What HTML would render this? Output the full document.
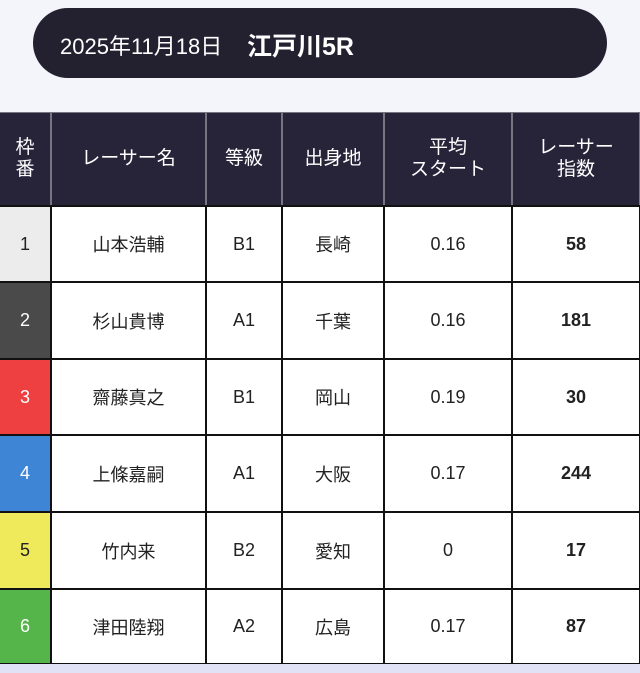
<!DOCTYPE html>
<html><head><meta charset="utf-8"><style>
body{margin:0;width:640px;height:673px;background:#f4f4fb;position:relative;overflow:hidden;font-family:"Liberation Sans","Noto Sans CJK JP",sans-serif;}
.pill{position:absolute;left:33px;top:8px;width:574px;height:70px;background:#23212f;border-radius:35px;color:#fff;}
.pill .d{position:absolute;left:27px;top:21px;font-size:22px;}
.pill .t{position:absolute;left:214px;top:19px;font-size:25px;font-weight:bold;}
.c{position:absolute;display:flex;align-items:center;justify-content:center;text-align:center;box-sizing:border-box;font-size:18px;color:#222;}
.h{background:#27243a;color:#fff;font-size:19px;line-height:22px;}
.bot{position:absolute;left:0;top:664px;width:640px;height:9px;background:#e2e2f6;}
</style></head><body>
<div class="pill"><span class="d">2025年11月18日</span><span class="t">江戸川5R</span></div>
<div id="t"></div>
<div class="bot"></div>
<script>
const xs=[0,51,206,282,384,512,640];
const ys=[112,206,282,359,435,512,589,664];
const hd=["枠<br>番","レーサー名","等級","出身地","平均<br>スタート","レーサー<br>指数"];
const rows=[["1","山本浩輔","B1","長崎","0.16","58"],["2","杉山貴博","A1","千葉","0.16","181"],["3","齋藤真之","B1","岡山","0.19","30"],["4","上條嘉嗣","A1","大阪","0.17","244"],["5","竹内来","B2","愛知","0","17"],["6","津田陸翔","A2","広島","0.17","87"]];
const cols=[["#ececec","#222"],["#4a4a4a","#fff"],["#ee4040","#fff"],["#3f85d6","#fff"],["#efe95c","#222"],["#55b54a","#fff"]];
let h="";
h+=`<div class="c" style="left:0;top:112px;width:640px;height:94px;background:#77757f"></div>`;
for(let i=0;i<6;i++){h+=`<div class="c h" style="left:${xs[i]+(i?1:0)}px;top:113px;width:${xs[i+1]-xs[i]-(i?2:1)}px;height:92px">${hd[i]}</div>`;}
h+=`<div class="c" style="left:0;top:205px;width:640px;height:460px;background:#111"></div>`;
for(let r=0;r<6;r++)for(let i=0;i<6;i++){
 const l=xs[i]+(i?1:0), t=ys[r+1]+1, w=xs[i+1]-xs[i]-(i?2:1), hh=ys[r+2]-ys[r+1]-2;
 let bg="#fff",col="#222",fw="normal";
 if(i==0){bg=cols[r][0];col=cols[r][1];}
 if(i==5)fw="bold";
 h+=`<div class="c" style="left:${l}px;top:${t}px;width:${w}px;height:${hh}px;background:${bg};color:${col};font-weight:${fw}">${rows[r][i]}</div>`;
}
document.getElementById("t").innerHTML=h;
</script>
</body></html>
